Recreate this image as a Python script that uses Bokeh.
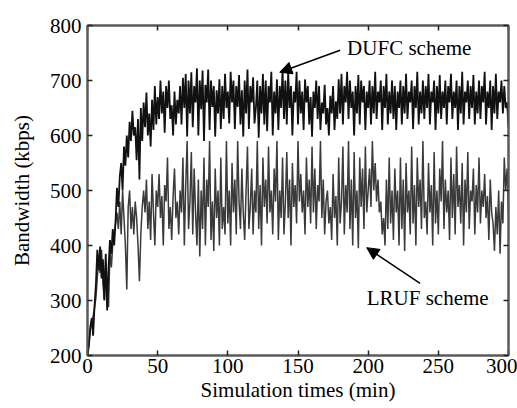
import numpy as np
from bokeh.plotting import figure
from bokeh.models import (Range1d, LinearAxis, Label, Arrow, NormalHead,
                          FixedTicker, CustomJSTickFormatter)
from bokeh.embed import file_html
from bokeh.resources import INLINE

times = list(range(0, 301))

dufc = [
    200, 218, 252, 268, 236, 290, 330, 392, 355, 398,
    340, 375, 300, 385, 282, 360, 410, 385, 430, 400,
    445, 505, 470, 525, 550, 500, 580, 545, 600, 560,
    625, 590, 645, 600, 615, 555, 630, 520, 650, 590,
    660, 615, 678, 600, 640, 580, 665, 610, 690, 620,
    670, 630, 700, 640, 680, 605, 690, 650, 700, 630,
    655, 600, 680, 620, 665, 640, 690, 620, 705, 650,
    712, 598, 700, 640, 715, 615, 690, 660, 722, 600,
    700, 648, 718, 590, 692, 660, 720, 610, 700, 652,
    690, 598, 682, 640, 702, 612, 690, 630, 712, 650,
    680, 622, 716, 660, 700, 612, 690, 652, 710, 620,
    682, 598, 700, 640, 720, 612, 690, 660, 706, 622,
    650, 700, 596, 690, 640, 712, 620, 700, 608, 690,
    660, 716, 600, 680, 640, 702, 610, 690, 650, 720,
    630, 700, 620, 716, 650, 690, 600, 680, 660, 716,
    620, 700, 640, 680, 610, 702, 660, 690, 620, 670,
    598, 680, 650, 700, 630, 690, 610, 660, 640, 692,
    620, 650, 600, 672, 640, 690, 610, 662, 630, 702,
    640, 712, 620, 690, 660, 716, 630, 700, 650, 680,
    600, 690, 640, 710, 620, 700, 660, 690, 610, 680,
    650, 700, 620, 690, 640, 716, 630, 680, 660, 700,
    610, 690, 650, 712, 620, 680, 640, 700, 630, 690,
    610, 680, 650, 700, 620, 690, 640, 712, 630, 680,
    660, 700, 612, 690, 650, 716, 620, 680, 640, 700,
    630, 690, 650, 712, 620, 680, 660, 700, 610, 690,
    640, 710, 630, 680, 650, 700, 620, 690, 660, 712,
    630, 680, 650, 700, 610, 690, 640, 716, 620, 680,
    660, 700, 630, 690, 650, 710, 620, 680, 640, 700,
    630, 690, 660, 716, 620, 680, 650, 700, 610, 690,
    640, 712, 630, 680, 660, 700, 640, 690, 650, 660,
    615,
]

lruf = [
    200, 222, 246, 262, 272, 286, 305, 342, 372, 350,
    392, 330, 302, 372, 330, 288, 392, 360, 402, 420,
    440, 460, 430, 480, 420, 500, 450, 400, 320, 470,
    500, 430, 470, 420, 480, 450, 400, 335, 420, 470,
    500, 460, 520, 430, 480, 410, 530, 460, 400, 500,
    470, 530, 450, 490, 400, 510, 480, 560, 430, 470,
    410, 490, 540, 450, 480, 420, 500, 460, 560, 400,
    510, 590, 430, 480, 570, 420, 540, 460, 400, 520,
    380, 500, 430, 560, 400, 520, 470, 590, 410, 480,
    390, 540, 450, 500, 400, 560, 430, 470, 420, 590,
    440, 500, 400, 550, 460, 520, 420, 590, 480, 430,
    540, 460, 410, 500, 580, 430, 470, 540, 420, 500,
    460, 590, 430, 510, 400, 560, 470, 520, 440, 580,
    460, 500, 420, 540, 480, 590, 410, 500, 450, 560,
    420, 480, 570, 450, 520, 400, 550, 470, 510, 440,
    590, 480, 530, 460, 500, 420, 560, 470, 520, 440,
    580, 460, 540, 430, 510, 480, 590, 450, 520, 420,
    480, 500, 440, 470, 410, 530, 450, 490, 400, 560,
    440, 480, 580, 420, 510, 460, 590, 430, 520, 400,
    570, 450, 500, 395, 560, 470, 540, 430, 580, 460,
    500, 540, 470, 590, 500, 550, 480, 520, 460, 480,
    420, 450, 400, 520, 430, 560, 440, 500, 410, 540,
    460, 500, 400, 560, 430, 520, 390, 550, 460, 500,
    420, 580, 440, 510, 400, 560, 470, 520, 430, 590,
    450, 480, 420, 550, 460, 510, 400, 570, 440, 500,
    420, 540, 480, 590, 430, 520, 460, 500, 410, 560,
    450, 530, 420, 580, 470, 510, 440, 550, 400, 520,
    460, 570, 430, 500, 480, 540, 420, 510, 460, 560,
    440, 500, 470, 530, 450, 490, 410, 520, 460, 440,
    390, 470, 420, 500, 385, 480, 440, 560, 500, 540,
    458,
]

x_ticks = [0, 50, 100, 150, 200, 250, 300]
y_ticks = [200, 300, 400, 500, 600, 700, 800]

x_label = "Simulation times (min)"
y_label = "Bandwidth (kbps)"
dufc_label = "DUFC scheme"
lruf_label = "LRUF scheme"

FONT = "'Liberation Serif', serif"
FRAME = "#5a5a5a"
FS = "21px"

p = figure(width=517, height=408, output_backend="svg", toolbar_location=None,
           x_range=Range1d(0, 300), y_range=Range1d(200, 800),
           min_border_left=87, min_border_right=9, min_border_top=25,
           min_border_bottom=53)
p.xgrid.visible = False
p.ygrid.visible = False
p.outline_line_color = FRAME
p.outline_line_width = 2
p.background_fill_color = "white"
p.border_fill_color = "white"

p.line(times, lruf, line_color="#3a3a3a", line_width=1.5)
p.line(times, dufc, line_color="#111111", line_width=1.8)

bottom = p.xaxis[0]
left = p.yaxis[0]
bottom.ticker = FixedTicker(ticks=x_ticks)
bottom.axis_label = x_label
left.ticker = FixedTicker(ticks=y_ticks)
left.axis_label = y_label

blank = CustomJSTickFormatter(code="return '';")
top = LinearAxis(ticker=FixedTicker(ticks=x_ticks), formatter=blank)
right = LinearAxis(ticker=FixedTicker(ticks=y_ticks), formatter=blank)
p.add_layout(top, "above")
p.add_layout(right, "right")

for ax in [bottom, left, top, right]:
    ax.axis_line_color = FRAME
    ax.axis_line_width = 2
    ax.major_tick_in = 5
    ax.major_tick_out = 0
    ax.major_tick_line_color = "#222222"
    ax.major_tick_line_width = 1.5
    ax.minor_tick_line_color = None
    ax.major_label_text_font = FONT
    ax.major_label_text_color = "black"
    ax.major_label_standoff = 0
    ax.axis_label_text_font = FONT
    ax.axis_label_text_font_style = "normal"
    ax.axis_label_text_color = "black"
    ax.axis_label_text_font_size = FS

for ax in [bottom, left]:
    ax.major_label_text_font_size = FS

bottom.major_label_standoff = 3
bottom.axis_label_standoff = 2
left.major_label_standoff = 6
left.axis_label_standoff = 13

p.add_layout(Label(x=185, y=760, text=dufc_label, text_font=FONT,
                   text_font_size=FS, text_baseline="middle", text_color="black"))
p.add_layout(Label(x=199, y=304, text=lruf_label, text_font=FONT,
                   text_font_size=FS, text_baseline="middle", text_color="black"))

p.add_layout(Arrow(end=NormalHead(size=12, fill_color="black", line_color="black"),
                   x_start=180, y_start=755, x_end=137, y_end=715,
                   line_width=1.5, line_color="black"))
p.add_layout(Arrow(end=NormalHead(size=12, fill_color="black", line_color="black"),
                   x_start=237, y_start=331, x_end=199, y_end=396,
                   line_width=1.5, line_color="black"))

open("out.html", "w").write(file_html(p, INLINE))
